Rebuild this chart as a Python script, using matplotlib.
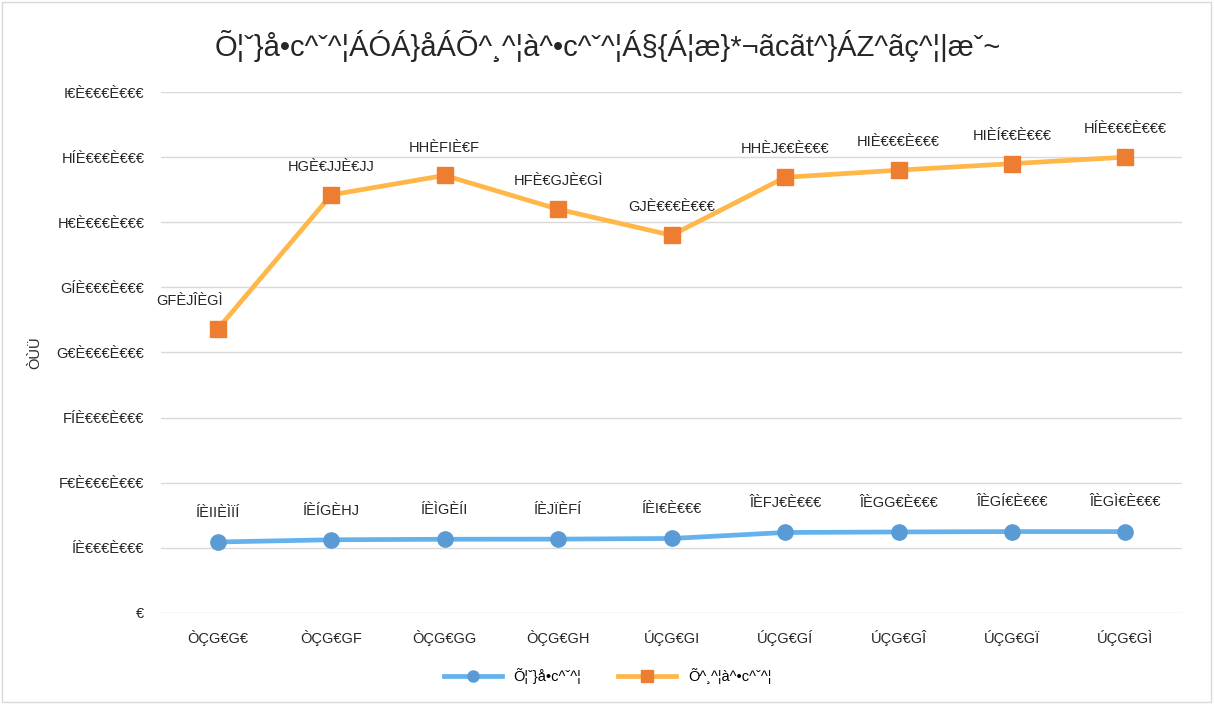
import matplotlib
matplotlib.use("Agg")
import matplotlib.pyplot as plt
from matplotlib.patches import Rectangle
from matplotlib.lines import Line2D
import numpy as np

INK = "#262626"
GRID = "#D9D9D9"
BLUE_LINE = "#63B2EE"
BLUE_MARK = "#5B9BD5"
ORANGE_LINE = "#FFB74A"
ORANGE_MARK = "#ED7D31"

title = "Õ¦ˇ}å•c^ˇ^¦ÁÓÁ}åÁÕ^¸^¦à^•c^ˇ^¦Á§{Á¦æ}*¬ãcãt^}ÁZ^ãç^¦|æˇ~"
ylabel = "ÒÙÜ"
series_names = ["Õ¦ˇ}å•c^ˇ^¦", "Õ^¸^¦à^•c^ˇ^¦"]
categories = ["ÒÇG€G€", "ÒÇG€GF", "ÒÇG€GG", "ÒÇG€GH", "ÚÇG€GI",
              "ÚÇG€GÍ", "ÚÇG€GÎ", "ÚÇG€GÏ", "ÚÇG€GÌ"]
blue_vals = [5.45e6, 5.62e6, 5.66e6, 5.67e6, 5.72e6, 6.18e6, 6.22e6, 6.25e6, 6.25e6]
orange_vals = [21.8e6, 32.1e6, 33.6e6, 31.0e6, 29.0e6, 33.45e6, 34.0e6, 34.5e6, 35.0e6]
blue_labels = ["ÍÈIIÈÌÏÍ", "ÍÈÍGÈHJ", "ÍÈÌGÈÍI", "ÍÈJÏÈFÍ", "ÍÈI€È€€€",
               "ÎÈFJ€È€€€", "ÎÈGG€È€€€", "ÎÈGÍ€È€€€", "ÎÈGÌ€È€€€"]
orange_labels = ["GFÈJÎÈGÌ", "HGÈ€JJÈ€JJ", "HHÈFIÈ€F", "HFÈ€GJÈ€GÌ", "GJÈ€€€È€€€",
                 "HHÈJ€€È€€€", "HIÈ€€€È€€€", "HIÈÍ€€È€€€", "HÍÈ€€€È€€€"]
yticks = [0, 5e6, 10e6, 15e6, 20e6, 25e6, 30e6, 35e6, 40e6]
ytick_labels = ["€", "ÍÈ€€€È€€€", "F€È€€€È€€€", "FÍÈ€€€È€€€", "G€È€€€È€€€",
                "GÍÈ€€€È€€€", "H€È€€€È€€€", "HÍÈ€€€È€€€", "I€È€€€È€€€"]

plt.rcParams["font.family"] = ["Liberation Sans", "DejaVu Sans"]

fig = plt.figure(figsize=(12.15, 7.04), dpi=100)
ax = fig.add_axes([0.1325, 0.1293, 0.8405, 0.74])
fig.patches.append(Rectangle((0.002, 0.003), 0.995, 0.994, transform=fig.transFigure,
                             fill=False, edgecolor=GRID, linewidth=1.0))

x = np.arange(len(categories))
ax.plot(x, blue_vals, color=BLUE_LINE, linewidth=3.4, marker="o", markersize=11,
        markerfacecolor=BLUE_MARK, markeredgecolor=BLUE_MARK, zorder=3)
ax.plot(x, orange_vals, color=ORANGE_LINE, linewidth=3.4, marker="s", markersize=11,
        markerfacecolor=ORANGE_MARK, markeredgecolor=ORANGE_MARK, zorder=3)

for xi, v, lab in zip(x, blue_vals, blue_labels):
    ax.annotate(lab, (xi, v), xytext=(0, 16), textcoords="offset points",
                ha="center", va="bottom", fontsize=10.5, color=INK)
for i, (xi, v, lab) in enumerate(zip(x, orange_vals, orange_labels)):
    dx = -20 if i == 0 else 0
    ax.annotate(lab, (xi, v), xytext=(dx, 15), textcoords="offset points",
                ha="center", va="bottom", fontsize=10.5, color=INK)

ax.set_xlim(-0.5, len(categories) - 0.5)
ax.set_ylim(0, 40e6)
ax.set_yticks(yticks)
ax.set_yticklabels(ytick_labels)
ax.set_xticks(x)
ax.set_xticklabels(categories)
ax.tick_params(axis="both", length=0, labelsize=10.5, colors=INK)
ax.tick_params(axis="x", pad=12)
ax.tick_params(axis="y", pad=12)
ax.grid(axis="y", color=GRID, linewidth=1.0)
ax.set_axisbelow(True)
for s in ax.spines.values():
    s.set_visible(False)
ax.set_ylabel(ylabel, fontsize=10.5, color=INK, labelpad=10)

fig.text(0.5, 0.935, title, ha="center", va="center", fontsize=21, color=INK)

handles = [
    Line2D([0], [0], color=BLUE_LINE, linewidth=3.4, marker="o", markersize=8,
           markerfacecolor=BLUE_MARK, markeredgecolor=BLUE_MARK),
    Line2D([0], [0], color=ORANGE_LINE, linewidth=3.4, marker="s", markersize=8,
           markerfacecolor=ORANGE_MARK, markeredgecolor=ORANGE_MARK),
]
fig.legend(handles, series_names, loc="center", bbox_to_anchor=(0.5, 0.04), ncol=2,
           frameon=False, fontsize=10.5, handlelength=4, columnspacing=2.5)

fig.savefig("out.png", dpi=100)
